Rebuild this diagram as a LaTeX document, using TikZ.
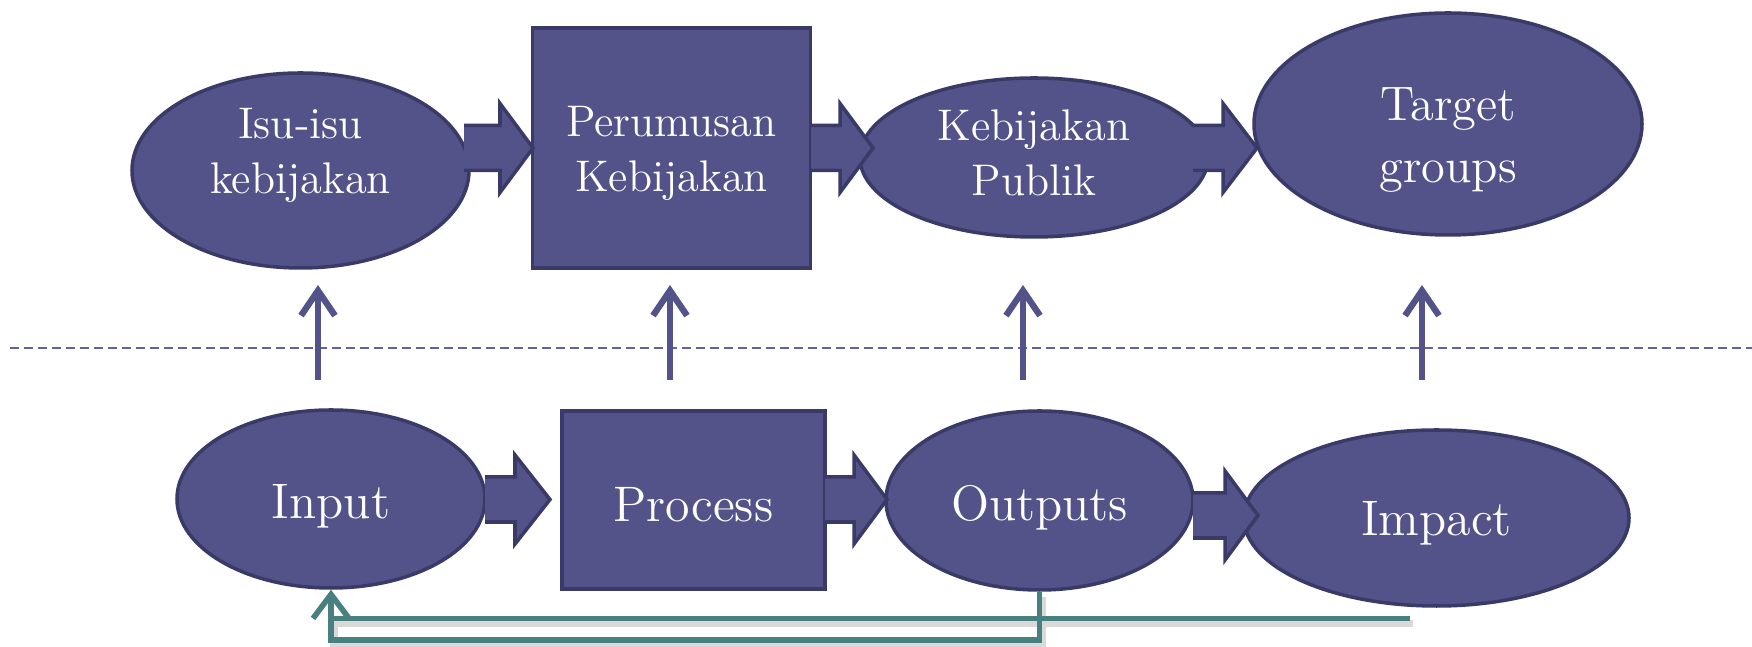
\documentclass[tikz,border=0pt]{standalone}
\usepackage{tikz}
\usetikzlibrary{arrows.meta,shapes.geometric}

\definecolor{boxfill}{RGB}{83,83,137}
\definecolor{boxline}{RGB}{58,58,104}
\definecolor{loopline}{RGB}{72,128,128}
\definecolor{splitline}{RGB}{98,98,160}

\tikzset{
  oval/.style={ellipse, draw=boxline, fill=boxfill, line width=1pt, inner sep=0pt},
  box/.style={rectangle, draw=boxline, fill=boxfill, line width=1pt, inner sep=0pt},
  nodetext/.style={text=white, align=center, inner sep=0pt},
  fatarrow/.style={draw=boxline, fill=boxfill, line width=1pt, line join=miter},
  uparrow/.style={draw=boxfill, line width=1.8pt, -{Straight Barb[length=2.5mm,width=3.4mm]}},
  loopshadow/.style={draw=black!15, line width=2pt},
  loop/.style={draw=loopline, line width=1.6pt}
}

\begin{document}
\begin{tikzpicture}

	\useasboundingbox (0,0) rectangle (17.52,6.47);

	% dashed divider
	\draw[splitline, line width=0.8pt, dash pattern=on 0.09cm off 0.05cm] (0.10,2.99) -- (17.52,2.99);

	% Top row
	\node[oval, minimum width=3.37cm, minimum height=1.95cm] (isu) at (3.005,4.765) {};
	\node[box, minimum width=2.78cm, minimum height=2.40cm] (rumus) at (6.715,4.99) {};
	\node[oval, minimum width=3.48cm, minimum height=1.59cm] (publik) at (10.34,4.895) {};
	\node[oval, minimum width=3.88cm, minimum height=2.22cm] (target) at (14.48,5.23) {};

	\node[nodetext, font=\fontsize{12.6}{15.6}\selectfont] (isu-t) at ([yshift=1.5mm]isu.center) {Isu-isu\\kebijakan};
	\node[nodetext, font=\fontsize{12.6}{15.6}\selectfont] (rumus-t) at ([yshift=-0.5mm]rumus.center) {Perumusan\\Kebijakan};
	\node[nodetext, font=\fontsize{12.6}{15.6}\selectfont] (publik-t) at ([yshift=0.5mm]publik.center) {Kebijakan\\Publik};
	\node[nodetext, font=\fontsize{13.8}{17.4}\selectfont] (target-t) at ([yshift=-1.6mm]target.center) {Target\\groups};

	% Bottom row
	\node[oval, minimum width=3.08cm, minimum height=1.78cm] (input) at (3.31,1.48) {};
	\node[box, minimum width=2.63cm, minimum height=1.78cm] (proses) at (6.935,1.47) {};
	\node[oval, minimum width=3.07cm, minimum height=1.79cm] (output) at (10.395,1.465) {};
	\node[oval, minimum width=3.85cm, minimum height=1.76cm] (impact) at (14.365,1.29) {};

	\node[nodetext, font=\fontsize{14.2}{17}\selectfont] (input-t) at ([yshift=-0.7mm]input.center) {Input};
	\node[nodetext, font=\fontsize{14.2}{17}\selectfont] (proses-t) at ([yshift=-0.5mm]proses.center) {Process};
	\node[nodetext, font=\fontsize{14.2}{17}\selectfont] (output-t) at ([yshift=-0.7mm]output.center) {Outputs};
	\node[nodetext, font=\fontsize{14.2}{17}\selectfont] (impact-t) at ([yshift=-0.5mm]impact.center) {Impact};

	% block arrows: start / head / tip / height
	\foreach \a/\b/\c/\y in {4.64/5.00/5.33/4.99, 8.11/8.40/8.73/4.99, 11.93/12.23/12.57/4.99,
	                         4.85/5.15/5.50/1.475, 8.25/8.54/8.87/1.475, 11.93/12.25/12.58/1.315}
	  \filldraw[fatarrow] (\a,\y+0.225) -- (\b,\y+0.225) -- (\b,\y+0.445) -- (\c,\y)
	    -- (\b,\y-0.445) -- (\b,\y-0.225) -- (\a,\y-0.225);

	% arrows across the divider
	\foreach \x in {3.18, 6.70, 10.23, 14.22}
	  \draw[uparrow] (\x,2.67) -- (\x,3.62);

	% feedback lines
	\coordinate (impact-end) at (14.10,0.285);
	\coordinate (low-right) at (output.south |- 0,0.07);
	\coordinate (low-left) at (input.south |- 0,0.07);
	\coordinate (join) at (input.south |- impact-end);

	\begin{scope}[transform canvas={xshift=0.3mm, yshift=-0.5mm}]
	\draw[loopshadow] (impact-end) -- (join);
	\draw[loopshadow] (output.south) -- (low-right) -- (low-left) -- (join);
	\end{scope}

	\draw[loop] (output.south) -- (low-right) -- (low-left) -- (join);
	\draw[loop, -{Straight Barb[length=2.4mm,width=3.6mm]}] (impact-end) -- (join) -- (input.south);

\end{tikzpicture}
\end{document}
